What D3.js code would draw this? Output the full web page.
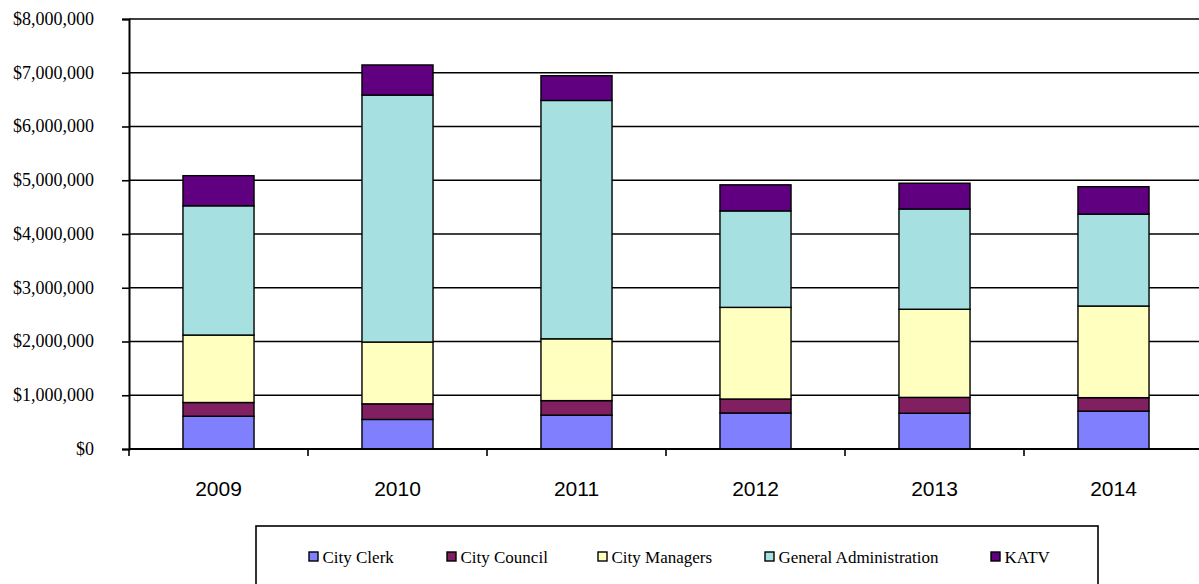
<!DOCTYPE html>
<html>
<head>
<meta charset="utf-8">
<script src="https://cdn.jsdelivr.net/npm/d3@7/dist/d3.min.js"></script>
<style>
  html, body { margin: 0; padding: 0; background: #fff; }
  svg { display: block; }
  .serif { font-family: "Liberation Serif", "Times New Roman", serif; }
  .sans { font-family: "Liberation Sans", Arial, sans-serif; }
</style>
</head>
<body>
<script>
// Department budgets by year (dollars)
const years = ["2009", "2010", "2011", "2012", "2013", "2014"];
const seriesNames = ["City Clerk", "City Council", "City Managers", "General Administration", "KATV"];
const cityClerk     = [610000, 550000, 630000, 670000, 665000, 705000];
const cityCouncil   = [255000, 290000, 270000, 260000, 295000, 250000];
const cityManagers  = [1255000, 1150000, 1150000, 1705000, 1640000, 1705000];
const generalAdmin  = [2405000, 4595000, 4435000, 1795000, 1865000, 1710000];
const katv          = [560000, 560000, 460000, 485000, 480000, 510000];
const seriesColors  = ["#8080FF", "#802060", "#FFFFC0", "#A6E0E0", "#600080"];
const yTicks = [0, 1000000, 2000000, 3000000, 4000000, 5000000, 6000000, 7000000, 8000000];

const W = 1199, H = 584;
const plot = { left: 129, top: 19, right: 1203, bottom: 449 };

const svg = d3.select("body").append("svg").attr("width", W).attr("height", H);

const table = years.map((yr, i) => ({
  year: yr,
  "City Clerk": cityClerk[i],
  "City Council": cityCouncil[i],
  "City Managers": cityManagers[i],
  "General Administration": generalAdmin[i],
  "KATV": katv[i]
}));
const stacked = d3.stack().keys(seriesNames)(table);

const x = d3.scaleBand().domain(years).range([plot.left, plot.right])
  .paddingInner(0.603).paddingOuter(0.3015);
const y = d3.scaleLinear().domain([0, 8000000]).range([plot.bottom, plot.top]);
const color = d3.scaleOrdinal().domain(seriesNames).range(seriesColors);
const money = d => "$" + d3.format(",")(d);

// horizontal gridlines
svg.append("g").selectAll("line").data(yTicks.filter(d => d > 0)).join("line")
  .attr("x1", plot.left).attr("x2", plot.right)
  .attr("y1", d => y(d)).attr("y2", d => y(d))
  .attr("stroke", "#000").attr("stroke-width", 1.6);

// stacked bars
svg.append("g").selectAll("g").data(stacked).join("g")
  .attr("fill", d => color(d.key))
  .selectAll("rect").data(d => d).join("rect")
  .attr("x", d => x(d.data.year))
  .attr("width", x.bandwidth())
  .attr("y", d => y(d[1]))
  .attr("height", d => y(d[0]) - y(d[1]))
  .attr("stroke", "#000").attr("stroke-width", 1.4);

// y axis: line and ticks from d3.axisLeft, labels drawn alongside
const gy = svg.append("g").attr("transform", `translate(${plot.left},0)`)
  .call(d3.axisLeft(y).tickValues(yTicks).tickSize(7).tickFormat(""));
gy.select(".domain").attr("stroke", "#000").attr("stroke-width", 2);
gy.selectAll(".tick line").attr("stroke", "#000").attr("stroke-width", 1.6);
svg.append("g").attr("class", "serif")
  .selectAll("text").data(yTicks).join("text")
  .attr("x", 94)
  .attr("y", d => y(d))
  .attr("dy", "0.33em")
  .attr("text-anchor", "end")
  .attr("font-size", 18)
  .attr("fill", "#000")
  .text(money);

// x axis with ticks at category boundaries
const step = x.step();
const boundaries = d3.range(years.length + 1).map(i => plot.left + i * step);
const gx = svg.append("g");
gx.append("line").attr("x1", plot.left).attr("x2", plot.right)
  .attr("y1", plot.bottom).attr("y2", plot.bottom)
  .attr("stroke", "#000").attr("stroke-width", 2);
gx.selectAll("line.tk").data(boundaries).join("line").attr("class", "tk")
  .attr("x1", d => d).attr("x2", d => d)
  .attr("y1", plot.bottom).attr("y2", plot.bottom + 7)
  .attr("stroke", "#000").attr("stroke-width", 1.6);
gx.append("g").attr("class", "sans")
  .selectAll("text").data(years).join("text")
  .attr("x", d => x(d) + x.bandwidth() / 2)
  .attr("y", 496)
  .attr("text-anchor", "middle")
  .attr("font-size", 21)
  .attr("fill", "#000")
  .text(d => d);

// legend
const lg = svg.append("g");
lg.append("rect").attr("x", 256).attr("y", 526).attr("width", 842).attr("height", 80)
  .attr("fill", "#fff").attr("stroke", "#000").attr("stroke-width", 1.6);
const legendX = [309, 447, 598, 765, 991];
const items = lg.selectAll("g.item").data(seriesNames).join("g").attr("class", "item")
  .attr("transform", (d, i) => `translate(${legendX[i]},552)`);
items.append("rect").attr("width", 9).attr("height", 9)
  .attr("fill", d => color(d)).attr("stroke", "#000").attr("stroke-width", 1.4);
items.append("text").attr("class", "serif").attr("x", 13.5).attr("y", 10.5)
  .attr("font-size", 17)
  .attr("fill", "#000")
  .text(d => d);
</script>
</body>
</html>
